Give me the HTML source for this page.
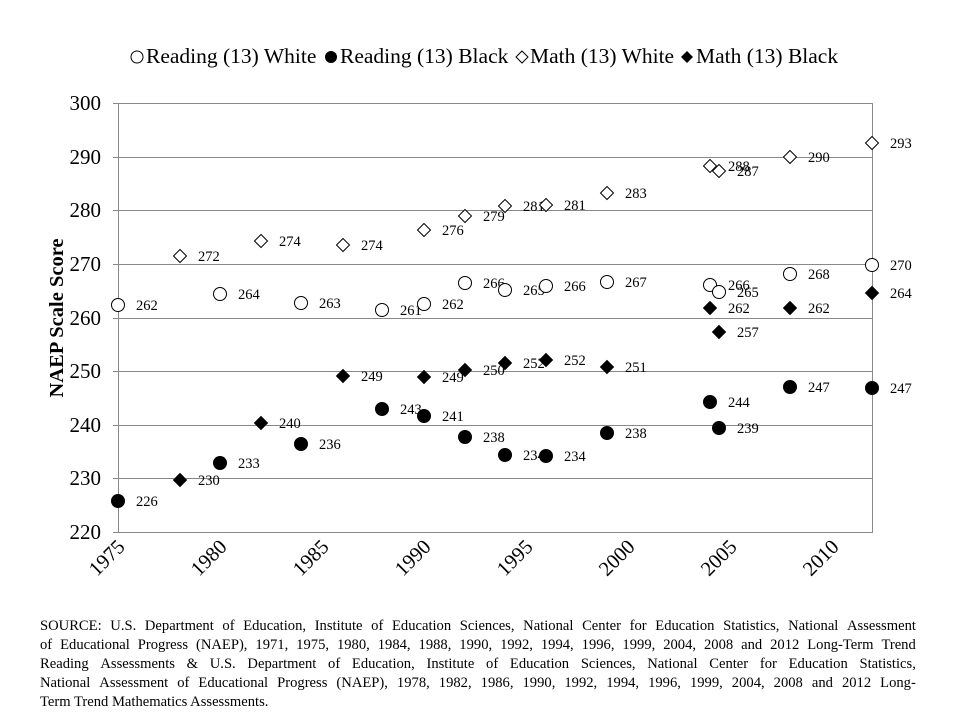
<!DOCTYPE html>
<html><head><meta charset="utf-8"><style>
body{margin:0;background:#fff;}
svg text{font-family:"Liberation Serif",serif;}
.src{position:absolute;left:40px;top:617px;width:876px;font:14.6px/19px "Liberation Serif",serif;color:#000;}
.src div{white-space:nowrap;display:flex;justify-content:space-between;}
.src div.l{display:block;text-align:left;text-align-last:left;}
</style></head><body>
<div style="position:relative;width:960px;height:720px;overflow:hidden">
<svg width="960" height="720" style="position:absolute;left:0;top:0">
<g stroke="#888" stroke-width="1">
<line x1="113" y1="103.5" x2="873" y2="103.5"/><line x1="113" y1="157.5" x2="873" y2="157.5"/>
<line x1="113" y1="210.5" x2="873" y2="210.5"/><line x1="113" y1="264.5" x2="873" y2="264.5"/>
<line x1="113" y1="318.5" x2="873" y2="318.5"/><line x1="113" y1="371.5" x2="873" y2="371.5"/>
<line x1="113" y1="425.5" x2="873" y2="425.5"/><line x1="113" y1="478.5" x2="873" y2="478.5"/>
<line x1="113" y1="532.5" x2="873" y2="532.5"/>
<line x1="118.5" y1="103" x2="118.5" y2="532"/><line x1="872.5" y1="103" x2="872.5" y2="532"/>
</g>
<g font-size="21" text-anchor="end">
<text x="101" y="110">300</text><text x="101" y="164">290</text><text x="101" y="217">280</text>
<text x="101" y="271">270</text><text x="101" y="325">260</text><text x="101" y="378">250</text>
<text x="101" y="432">240</text><text x="101" y="485">230</text><text x="101" y="539">220</text>
</g>
<g font-size="20.5" text-anchor="end">
<text transform="translate(126,548) rotate(-45)">1975</text>
<text transform="translate(228,548) rotate(-45)">1980</text>
<text transform="translate(330,548) rotate(-45)">1985</text>
<text transform="translate(432,548) rotate(-45)">1990</text>
<text transform="translate(534,548) rotate(-45)">1995</text>
<text transform="translate(636,548) rotate(-45)">2000</text>
<text transform="translate(738,548) rotate(-45)">2005</text>
<text transform="translate(840,548) rotate(-45)">2010</text>
</g>
<text transform="translate(63,318) rotate(-90)" font-size="20.5" font-weight="bold" text-anchor="middle">NAEP Scale Score</text>
<g font-size="21.5">
<circle cx="137" cy="57" r="6" fill="#fff" stroke="#000"/><text x="146" y="63">Reading (13) White</text>
<circle cx="331" cy="57" r="6" fill="#000"/><text x="340" y="63">Reading (13) Black</text>
<path d="M522 51l6 6-6 6-6-6z" fill="#fff" stroke="#000"/><text x="530" y="63">Math (13) White</text>
<path d="M687 51l6 6-6 6-6-6z" fill="#000"/><text x="696" y="63">Math (13) Black</text>
</g>
<g id="pts" font-size="14.5"></g>
</svg>
<div class="src">
<div><span>SOURCE:</span><span>U.S.</span><span>Department</span><span>of</span><span>Education,</span><span>Institute</span><span>of</span><span>Education</span><span>Sciences,</span><span>National</span><span>Center</span><span>for</span><span>Education</span><span>Statistics,</span><span>National</span><span>Assessment</span></div>
<div><span>of</span><span>Educational</span><span>Progress</span><span>(NAEP),</span><span>1971,</span><span>1975,</span><span>1980,</span><span>1984,</span><span>1988,</span><span>1990,</span><span>1992,</span><span>1994,</span><span>1996,</span><span>1999,</span><span>2004,</span><span>2008</span><span>and</span><span>2012</span><span>Long-Term</span><span>Trend</span></div>
<div><span>Reading</span><span>Assessments</span><span>&amp;</span><span>U.S.</span><span>Department</span><span>of</span><span>Education,</span><span>Institute</span><span>of</span><span>Education</span><span>Sciences,</span><span>National</span><span>Center</span><span>for</span><span>Education</span><span>Statistics,</span></div>
<div><span>National</span><span>Assessment</span><span>of</span><span>Educational</span><span>Progress</span><span>(NAEP),</span><span>1978,</span><span>1982,</span><span>1986,</span><span>1990,</span><span>1992,</span><span>1994,</span><span>1996,</span><span>1999,</span><span>2004,</span><span>2008</span><span>and</span><span>2012</span><span>Long-</span></div>
<div class="l">Term Trend Mathematics Assessments.</div>
</div>
</div>
<script>
var X={1975:118,1978:180,1980:220,1982:261,1984:301,1986:343,1988:382,1990:424,1992:465,1994:505,1996:546,1999:607,2004:710,2004.5:719,2008:790,2012:872};
var S=[
['ow',[[1975,305,262],[1980,294,264],[1984,303,263],[1988,310,261],[1990,304,262],[1992,283,266],[1994,290,265],[1996,286,266],[1999,282,267],[2004,285,266],[2004.5,292,265],[2008,274,268],[2012,265,270]]],
['ob',[[1975,501,226],[1980,463,233],[1984,444,236],[1988,409,243],[1990,416,241],[1992,437,238],[1994,455,234],[1996,456,234],[1999,433,238],[2004,402,244],[2004.5,428,239],[2008,387,247],[2012,388,247]]],
['dw',[[1978,256,272],[1982,241,274],[1986,245,274],[1990,230,276],[1992,216,279],[1994,206,281],[1996,205,281],[1999,193,283],[2004,166,288],[2004.5,171,287],[2008,157,290],[2012,143,293]]],
['db',[[1978,480,230],[1982,423,240],[1986,376,249],[1990,377,249],[1992,370,250],[1994,363,252],[1996,360,252],[1999,367,251],[2004,308,262],[2004.5,332,257],[2008,308,262],[2012,293,264]]]];
var h='';
S.forEach(function(s){s[1].forEach(function(p){var x=X[p[0]],y=p[1];
if(s[0][0]=='o')h+='<circle cx="'+x+'" cy="'+y+'" r="6.5" fill="'+(s[0]=='ow'?'#fff':'#000')+'" stroke="#000"/>';
else h+='<path d="M'+x+' '+(y-6.5)+'l6.5 6.5-6.5 6.5-6.5-6.5z" fill="'+(s[0]=='dw'?'#fff':'#000')+'" stroke="#000"/>';
h+='<text x="'+(x+18)+'" y="'+(y+5)+'">'+p[2]+'</text>';});});
document.getElementById('pts').innerHTML=h;
</script>
</body></html>
